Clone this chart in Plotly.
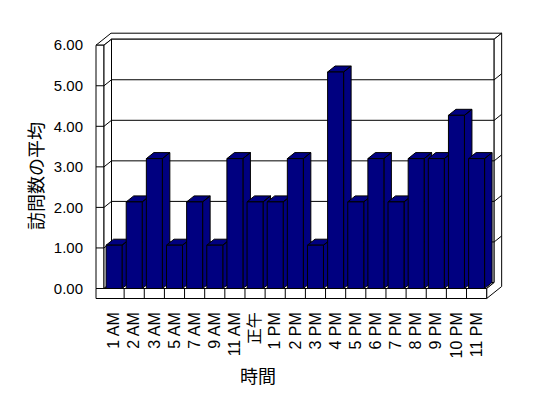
import plotly.graph_objects as go

# ---------------- data ----------------
categories = ["1 AM", "2 AM", "3 AM", "5 AM", "7 AM", "9 AM", "11 AM", "正午",
              "1 PM", "2 PM", "3 PM", "4 PM", "5 PM", "6 PM", "7 PM", "8 PM",
              "9 PM", "10 PM", "11 PM"]
values = [1, 2, 3, 1, 2, 1, 3, 2, 2, 3, 1, 5, 2, 3, 2, 3, 3, 4, 3]
y_ticks = [0, 1, 2, 3, 4, 5, 6]
y_tick_labels = ["0.00", "1.00", "2.00", "3.00", "4.00", "5.00", "6.00"]
x_title = "時間"
y_title = "訪問数の平均"

# ---------------- geometry (page pixels) ----------------
PAGE_W, PAGE_H = 548, 398
BODY = 8                                   # default page margin of the html body
PL, PR, PT, PB = 90, 508, 28, 302          # plot area (page coords)
BAND0, BANDW = 104.0, 20.14                # category band start / width
Y0, YS = 288.5, 40.55                      # value-axis zero and px per unit
YS_BAR = 43.3                              # px per unit for bar faces (perspective)
DXP, DYP = 7.5, 6.0                        # depth offset of the 3-D look
BAR_W = 16.0 / BANDW
n = len(categories)
idx = list(range(n))

def X(px):
    return (px - BAND0) / BANDW - 0.5

def Y(py):
    return (Y0 - py) / YS

x_range = [X(PL), X(PR)]
y_range = [Y(PB), Y(PT)]
y2_range = [(Y0 - PB) / YS_BAR, (Y0 - PT) / YS_BAR]

XO, XI = 96.0, BAND0
XE = BAND0 + n * BANDW
YT = Y0 - 6 * YS
YFB = Y0 + 10.0
dx, dy = DXP, DYP

LINE = dict(color="black", width=1)
shapes = []

def poly(pts, fill="white"):
    d = "M " + " L ".join(f"{X(a):.4f},{Y(b):.4f}" for a, b in pts) + " Z"
    shapes.append(dict(type="path", path=d, xref="x", yref="y", layer="below",
                       fillcolor=fill, line=LINE))

def seg(p, q):
    shapes.append(dict(type="line", xref="x", yref="y", layer="below",
                       x0=X(p[0]), y0=Y(p[1]), x1=X(q[0]), y1=Y(q[1]), line=LINE))

# top surface of walls
poly([(XO, YT), (XO + 2 * dx, YT - 2 * dy), (XE + 2 * dx, YT - 2 * dy),
      (XE + dx, YT - dy), (XI + dx, YT - dy), (XI, YT)])
# left wall front face
poly([(XO, YT), (XI, YT), (XI, Y0), (XO, Y0)])
# left wall inner face
poly([(XI, YT), (XI + dx, YT - dy), (XI + dx, Y0 - dy), (XI, Y0)])
# back wall
poly([(XI + dx, YT - dy), (XE + dx, YT - dy), (XE + dx, Y0 - dy), (XI + dx, Y0 - dy)])
# floor top
poly([(XI, Y0), (XE, Y0), (XE + dx, Y0 - dy), (XI + dx, Y0 - dy)])
# right end
poly([(XE + dx, YT - dy), (XE + 2 * dx, YT - 2 * dy), (XE + 2 * dx, YFB - 2 * dy),
      (XE, YFB), (XE, Y0), (XE + dx, Y0 - dy)])
# floor front
poly([(XO, Y0), (XE, Y0), (XE, YFB), (XO, YFB)])
# category separators on floor front
for k in range(1, n):
    xk = BAND0 + k * BANDW
    seg((xk, Y0), (xk, YFB))
# gridlines
for v in y_ticks[1:-1]:
    yf = Y0 - v * YS
    seg((XO, yf), (XI, yf))
    seg((XI, yf), (XI + dx, yf - dy))
    seg((XI + dx, yf - dy), (XE + dx, yf - dy))
    seg((XE + dx, yf - dy), (XE + 2 * dx, yf - 2 * dy))

FONT = "Liberation Sans, Arial, Noto Sans CJK JP, sans-serif"
CJK = "Noto Sans CJK JP, sans-serif"
NAVY = "#000080"

fig = go.Figure()

# 3-D side and top faces of each bar (drawn left to right)
ddx = DXP / BANDW
ddy = DYP / YS_BAR
for i, v in zip(idx, values):
    xl, xr = i - BAR_W / 2, i + BAR_W / 2
    xs = [xr, xr + ddx, xr + ddx, xr, xr, None,
          xl, xl + ddx, xr + ddx, xr, xl]
    ys = [0, ddy, v + ddy, v, 0, None,
          v, v + ddy, v + ddy, v, v]
    fig.add_trace(go.Scatter(x=xs, y=ys, yaxis="y2", mode="lines", fill="toself",
                             fillcolor=NAVY, line=LINE, hoverinfo="skip",
                             showlegend=False))

# front faces
fig.add_trace(go.Bar(x=idx, y=values, yaxis="y3", width=BAR_W,
                     marker=dict(color=NAVY, line=LINE), showlegend=False,
                     hovertext=categories))

fig.update_layout(
    width=PAGE_W - BODY, height=PAGE_H - BODY,
    margin=dict(l=PL - BODY, r=PAGE_W - PR, t=PT - BODY, b=PAGE_H - PB, pad=0),
    paper_bgcolor="white", plot_bgcolor="white",
    showlegend=False,
    font=dict(family=FONT, size=15, color="black"),
    xaxis=dict(range=x_range, tickvals=idx, ticktext=categories, tickangle=-90,
               showgrid=False, zeroline=False, showline=False, ticks="",
               ticklabelstandoff=6, tickfont=dict(size=16)),
    yaxis=dict(range=y_range, tickvals=y_ticks, ticktext=y_tick_labels,
               showgrid=False, zeroline=False, showline=False, ticks="",
               ticklabelstandoff=6, tickfont=dict(size=15)),
    yaxis2=dict(range=y2_range, overlaying="y", visible=False),
    yaxis3=dict(range=y2_range, overlaying="y", visible=False),
    shapes=shapes,
    annotations=[
        dict(text=x_title, xref="paper", yref="paper",
             x=(258 - PL) / (PR - PL), y=(PB - 375) / (PB - PT),
             xanchor="center", yanchor="middle", showarrow=False,
             font=dict(family=CJK, size=18)),
        dict(text=y_title, xref="paper", yref="paper", textangle=-90,
             x=(35 - PL) / (PR - PL), y=(PB - 176) / (PB - PT),
             xanchor="center", yanchor="middle", showarrow=False,
             font=dict(family=CJK, size=18)),
    ],
)

fig.write_html("out.html")
